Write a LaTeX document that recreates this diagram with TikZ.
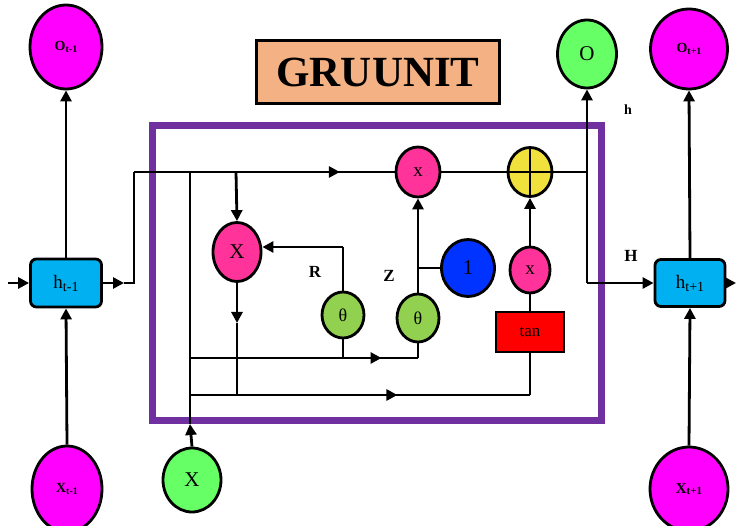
\documentclass[tikz,border=0pt]{standalone}
\usepackage{fontspec}
\setmainfont{Liberation Serif}
\usetikzlibrary{shapes.geometric,arrows.meta,decorations.markings}
\definecolor{mag}{RGB}{255,0,255}
\definecolor{hcyan}{RGB}{0,176,240}
\definecolor{lgreen}{RGB}{102,255,102}
\definecolor{tgreen}{RGB}{146,208,80}
\definecolor{hpink}{RGB}{255,51,153}
\definecolor{gold}{RGB}{240,225,60}
\definecolor{bblue}{RGB}{0,51,255}
\definecolor{purp}{RGB}{112,48,160}
\definecolor{peach}{RGB}{244,177,131}
\newcommand{\fs}[1]{\fontsize{#1}{#1}\selectfont}
\begin{document}
\begin{tikzpicture}[x=1pt,y=-1pt,line width=2.8pt,
 ell/.style={ellipse,draw,line width=2.8pt,inner sep=0pt},
 hbox/.style={draw,rounded corners=6pt,fill=hcyan,minimum width=71pt,minimum height=48pt,inner sep=0pt},
 arr/.style={-{Triangle[length=11pt,width=11pt]}},
 midar/.style={postaction={decorate},decoration={markings,mark=at position #1 with {\arrow{Triangle[length=11pt,width=11pt]}}}},
 lbl/.style={font=\fs{17}\bfseries,inner sep=0pt}]
\useasboundingbox (0,0) rectangle (736,526);
% frame
\draw[purp,line width=7pt] (152,126) rectangle (601,420);
% title
\node[draw,fill=peach,line width=2.2pt,minimum width=243pt,minimum height=63pt,inner sep=0pt,font=\fs{43}\bfseries] (title) at (378,72) {\raisebox{-5pt}{GRUUNIT}};
% outer nodes
\node[ell,fill=mag,minimum width=72pt,minimum height=84pt] (om) at (66,47) {\fs{14}\bfseries O\raisebox{-1.5pt}{\fs{10}t-1}};
\node[hbox] (hm) at (66,283) {\fs{19}h\raisebox{-3pt}{\fs{14}t-1}};
\node[ell,fill=mag,minimum width=70pt,minimum height=86pt] (xm) at (67,489) {\fs{14}\bfseries X\raisebox{-1.5pt}{\fs{10}t-1}};
\node[ell,fill=lgreen,minimum width=59pt,minimum height=68pt] (og) at (587,54) {\fs{21}O};
\node[ell,fill=mag,minimum width=77pt,minimum height=80pt] (op) at (689,49) {\fs{14}\bfseries O\raisebox{-1.5pt}{\fs{10}t+1}};
\node[hbox,minimum width=70pt,minimum height=47pt] (hp) at (690,283) {\fs{19}h\raisebox{-3pt}{\fs{14}t+1}};
\node[ell,fill=mag,minimum width=78pt,minimum height=84pt] (xp) at (689,489) {\fs{15}\bfseries X\raisebox{-1.5pt}{\fs{11}t+1}};
\node[ell,fill=lgreen,minimum width=58pt,minimum height=64pt] (xg) at (192,480) {\fs{21}X};
% inner nodes
\node[ell,fill=hpink,minimum width=48pt,minimum height=59pt] (pX) at (237,252) {\fs{21}X};
\node[ell,fill=hpink,minimum width=44pt,minimum height=50pt] (px) at (418,172) {\fs{19}x};
\node[ell,fill=gold,minimum width=44pt,minimum height=49pt] (pl) at (530,172) {};
\node[ell,fill=hpink,minimum width=40pt,minimum height=46pt] (sx) at (530,270) {\fs{19}x};
\node[ell,fill=bblue,minimum width=53pt,minimum height=57pt] (b1) at (468,268) {\fs{21}1};
\node[ell,fill=tgreen,minimum width=42pt,minimum height=46pt] (t1) at (343,315) {\fs{18}θ};
\node[ell,fill=tgreen,minimum width=42pt,minimum height=48pt] (t2) at (418,318) {\fs{18}θ};
\node[draw,fill=red,line width=2.8pt,minimum width=68pt,minimum height=40pt,inner sep=0pt] (tn) at (530,332) {\fs{17}tan};
% labels
\node[lbl] (lR) at (315,272) {R};
\node[lbl] (lZ) at (389,276) {Z};
\node[lbl,font=\fs{14}\bfseries] (lh) at (628,110) {h};
\node[lbl] (lH) at (631,256) {H};
% coordinates
\coordinate (inL) at (8,283);
\coordinate (a1) at (124,283);
\coordinate (c0) at (134,283);
\coordinate (c1) at (134,172);
\coordinate (j1) at (190,172);
\coordinate (j2) at (236,172);
\coordinate (jr) at (587,172);
\coordinate (jrb) at (587,283);
\coordinate (outR) at (736,283);
\coordinate (ax) at (190,424);
\coordinate (y1a) at (190,358);
\coordinate (y1b) at (418,358);
\coordinate (y2a) at (190,395);
\coordinate (y2b) at (530,395);
\coordinate (dX) at (237,323);
\coordinate (dXb) at (237,395);
\coordinate (rc) at (343,247);
\coordinate (t1b) at (343,358);
\coordinate (zj) at (418,268);
% connectors
\draw[arr] (inL) -- (hm.west);
\draw[arr] (hm.east) -- (a1);
\draw (a1) -- (c0) -- (c1);
\draw[midar=0.79] (c1) -- (px.west);
\draw (px.east) -- (pl.west);
\draw (pl.east) -- (jr);
\draw (pl.north) -- (pl.south);
\draw (pl.west) -- (pl.east);
\draw (jr) -- (jrb);
\draw[arr] (jrb) -- (og.south);
\draw[arr] (jrb) -- (hp.west);
\draw[arr] (hp.east) -- (outR);
\draw[arr] (hm.north) -- (om.south);
\draw[arr] (xm.north) -- (hm.south);
\draw[arr] (hp.north) -- (op.south);
\draw[arr] (xp.north) -- (hp.south);
\draw[arr] (xg.north) -- (ax);
\draw (ax) -- (j1);
\draw[arr] (j2) -- (pX.north);
\draw[arr] (pX.south) -- (dX);
\draw (dX) -- (dXb);
\draw (t1.north) -- (rc);
\draw[arr] (rc) -- (pX.east |- rc);
\draw[midar=0.84] (y1a) -- (y1b);
\draw (t1.south) -- (t1b);
\draw (t2.south) -- (y1b);
\draw[midar=0.61] (y2a) -- (y2b);
\draw (y2b) -- (tn.south);
\draw (tn.north) -- (sx.south);
\draw[arr] (sx.north) -- (pl.south);
\draw[arr] (t2.north) -- (px.south);
\draw (zj) -- (b1.west);
\end{tikzpicture}
\end{document}
